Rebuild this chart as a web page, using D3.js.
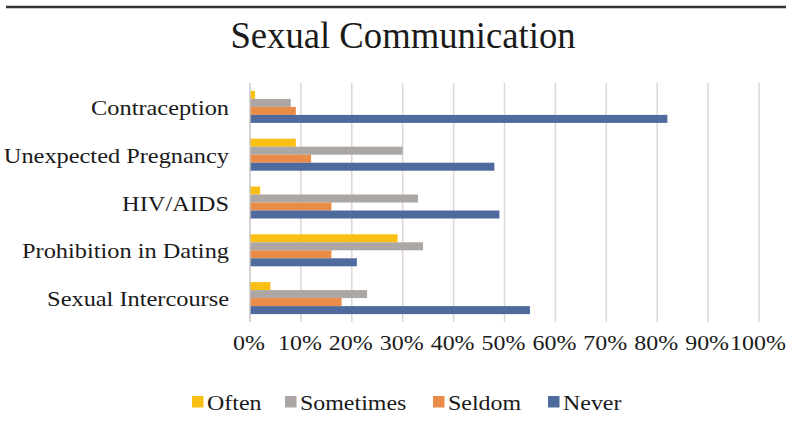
<!DOCTYPE html>
<html>
<head>
<meta charset="utf-8">
<script src="https://cdn.jsdelivr.net/npm/d3@7"></script>
<style>
  body { margin: 0; background: #fff; }
  text { font-family: "Liberation Serif", "Times New Roman", serif; fill: #1a1a1a; }
</style>
</head>
<body>
<svg id="chart" width="787" height="426"></svg>
<script>
// data (percent)
const categories = ["Contraception", "Unexpected Pregnancy", "HIV/AIDS", "Prohibition in Dating", "Sexual Intercourse"];
const seriesNames = ["Often", "Sometimes", "Seldom", "Never"];
const often     = [1, 9, 2, 29, 4];
const sometimes = [8, 30, 33, 34, 23];
const seldom    = [9, 12, 16, 16, 18];
const never     = [82, 48, 49, 21, 55];
const tickValues = [0, 10, 20, 30, 40, 50, 60, 70, 80, 90, 100];

const seriesValues = [often, sometimes, seldom, never];
const rows = categories.map((c, i) => ({
  cat: c,
  vals: seriesNames.map((s, j) => ({ key: s, value: seriesValues[j][i] }))
}));

const svg = d3.select("#chart");

const color = d3.scaleOrdinal()
  .domain(seriesNames)
  .range(["#f9c013", "#aca6a4", "#e98c48", "#4f6b9e"]);

const x = d3.scaleLinear().domain([0, 100]).range([250, 759]);
const y = d3.scaleBand().domain(categories).range([83, 322]).paddingInner(0.33).paddingOuter(0.165);
const ySub = d3.scaleBand().domain(seriesNames).range([0, y.bandwidth()]);

// the text in the picture is a little wider than the font draws it
const wide = 1.14;

// top rule
svg.append("line")
  .attr("x1", 6).attr("x2", 786).attr("y1", 7).attr("y2", 7)
  .attr("stroke", "#333").attr("stroke-width", 2.5);

// title
svg.append("text")
  .attr("transform", "translate(403,48) scale(0.965,1)")
  .attr("text-anchor", "middle")
  .style("font-size", "38px")
  .text("Sexual Communication");

// gridlines
svg.append("g")
  .selectAll("line")
  .data(tickValues.slice(1))
  .enter().append("line")
  .attr("x1", d => x(d)).attr("x2", d => x(d))
  .attr("y1", 83).attr("y2", 322)
  .attr("stroke", "#dcd6d6").attr("stroke-width", 1.5);

// bars
const group = svg.append("g")
  .selectAll("g")
  .data(rows)
  .enter().append("g")
  .attr("transform", d => `translate(0,${y(d.cat)})`);

group.selectAll("rect")
  .data(d => d.vals)
  .enter().append("rect")
  .attr("x", x(0))
  .attr("y", d => ySub(d.key))
  .attr("width", d => x(d.value) - x(0))
  .attr("height", ySub.bandwidth())
  .attr("fill", d => color(d.key));

// vertical axis line
svg.append("line")
  .attr("x1", x(0)).attr("x2", x(0))
  .attr("y1", 83).attr("y2", 322)
  .attr("stroke", "#c8c4c4").attr("stroke-width", 1.5);

// category labels
svg.append("g")
  .selectAll("text")
  .data(categories)
  .enter().append("text")
  .attr("transform", d => `translate(229,${y(d) + y.bandwidth() / 2 + 8}) scale(1.16,1)`)
  .attr("text-anchor", "end")
  .style("font-size", "21px")
  .text(d => d);

// x tick labels
svg.append("g")
  .selectAll("text")
  .data(tickValues)
  .enter().append("text")
  .attr("transform", d => `translate(${x(d) - 1},350) scale(${wide},1)`)
  .attr("text-anchor", "middle")
  .style("font-size", "21px")
  .text(d => d + "%");

// legend
const legendX = [192, 285, 433, 548];
const legend = svg.append("g")
  .selectAll("g")
  .data(seriesNames)
  .enter().append("g")
  .attr("transform", (d, i) => `translate(${legendX[i]},0)`);

legend.append("rect")
  .attr("x", 0).attr("y", 396)
  .attr("width", 11.5).attr("height", 11.5)
  .attr("fill", d => color(d));

legend.append("text")
  .attr("transform", `translate(15,410) scale(${wide},1)`)
  .style("font-size", "21px")
  .text(d => d);
</script>
</body>
</html>
